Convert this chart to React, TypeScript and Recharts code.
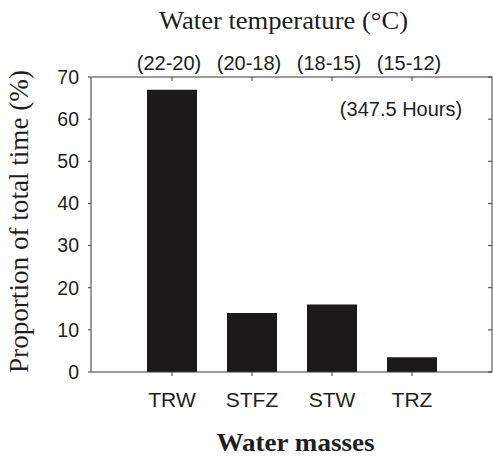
import React from 'react';
import { BarChart, Bar, XAxis, YAxis, ReferenceDot } from 'recharts';

// ---- data ----
const waterMasses = ['TRW', 'STFZ', 'STW', 'TRZ'];
const temperatureRanges = ['(22-20)', '(20-18)', '(18-15)', '(15-12)'];
const proportions = [67, 14, 16, 3.5];
const yTicks = [0, 10, 20, 30, 40, 50, 60, 70];
const totalHoursNote = '(347.5 Hours)';
const noteAnchor = { mass: 'TRZ', value: 62.4 };

const topTitle = 'Water temperature (°C)';
const bottomTitle = 'Water masses';
const leftTitle = 'Proportion of total time (%)';

const data = waterMasses.map((m, i) => ({
  mass: m,
  temp: temperatureRanges[i],
  value: proportions[i],
}));

// ---- styles ----
const SANS = 'Arial, "Liberation Sans", Helvetica, sans-serif';
const SERIF = '"Times New Roman", "Liberation Serif", serif';
const INK = '#1e1e1e';
const AXIS = '#3a3a3a';
const BAR = '#1b1919';

const TopTick = (props: any) => {
  const { x, y, payload } = props;
  return (
    <g>
      <line x1={x} x2={x} y1={y + 7} y2={y + 11} stroke={AXIS} strokeWidth={1} />
      <text x={x - 3} y={y} textAnchor="middle" fontFamily={SANS} fontSize={20} fill={INK}>
        {payload.value}
      </text>
    </g>
  );
};

const RightTick = (props: any) => {
  const { x, y } = props;
  return <line x1={x} x2={x - 4} y1={y} y2={y} stroke={AXIS} strokeWidth={1} />;
};

const TopTitle = (props: any) => {
  const vb = props.viewBox || { x: 91, y: 0, width: 401, height: 77 };
  const cx = vb.x + vb.width / 2 - 8;
  return (
    <text
      x={cx}
      y={vb.y + 29}
      textAnchor="middle"
      fontFamily={SERIF}
      fontSize={26}
      fill={INK}
      textLength={249}
      lengthAdjust="spacingAndGlyphs"
    >
      {topTitle}
    </text>
  );
};

const BottomTitle = (props: any) => {
  const vb = props.viewBox || { x: 91, y: 372, width: 401, height: 85 };
  const cx = vb.x + vb.width / 2 + 4;
  return (
    <text
      x={cx}
      y={vb.y + 79}
      textAnchor="middle"
      fontFamily={SERIF}
      fontWeight="bold"
      fontSize={25.5}
      fill={INK}
      textLength={158}
      lengthAdjust="spacingAndGlyphs"
    >
      {bottomTitle}
    </text>
  );
};

const LeftTitle = (props: any) => {
  const vb = props.viewBox || { x: 0, y: 77, width: 91, height: 295 };
  const cx = vb.x + 28;
  const cy = vb.y + vb.height / 2 - 3;
  return (
    <text
      x={cx}
      y={cy}
      transform={`rotate(-90, ${cx}, ${cy})`}
      textAnchor="middle"
      fontFamily={SERIF}
      fontSize={26.5}
      fill={INK}
      textLength={303}
      lengthAdjust="spacingAndGlyphs"
    >
      {leftTitle}
    </text>
  );
};

const NoteLabel = (props: any) => {
  const vb = props.viewBox || { x: 0, y: 0, width: 0, height: 0 };
  const cx = vb.x + vb.width / 2 - 11;
  const cy = vb.y + vb.height / 2;
  return (
    <text x={cx} y={cy + 7} textAnchor="middle" fontFamily={SANS} fontSize={20} fill={INK}>
      {totalHoursNote}
    </text>
  );
};

export default function App() {
  return (
    <div style={{ position: 'absolute', left: 0, top: 0, background: '#fff' }}>
      <BarChart
        width={493}
        height={457}
        data={data}
        margin={{ top: 0, right: 0, bottom: 0, left: 0 }}
      >
        <XAxis
          dataKey="mass"
          orientation="bottom"
          height={85}
          padding={{ left: 41, right: 40 }}
          tickSize={4}
          tickMargin={16}
          tick={{ fontFamily: SANS, fontSize: 21, fill: INK }}
          tickLine={{ stroke: AXIS }}
          axisLine={{ stroke: AXIS }}
          label={BottomTitle}
        />
        <XAxis
          xAxisId="top"
          dataKey="temp"
          orientation="top"
          height={77}
          padding={{ left: 41, right: 40 }}
          tickSize={0}
          tickMargin={7}
          tick={TopTick}
          tickLine={false}
          axisLine={{ stroke: AXIS }}
          label={TopTitle}
        />
        <YAxis
          domain={[0, 70]}
          ticks={yTicks}
          width={91}
          tickSize={3}
          tickMargin={9}
          tick={{ fontFamily: SANS, fontSize: 19.5, fill: INK }}
          tickLine={{ stroke: AXIS }}
          axisLine={{ stroke: AXIS }}
          label={LeftTitle}
        />
        <YAxis
          yAxisId="right"
          orientation="right"
          domain={[0, 70]}
          ticks={yTicks}
          allowDataOverflow
          width={1}
          tickSize={0}
          tickMargin={0}
          tick={RightTick}
          tickLine={false}
          axisLine={{ stroke: AXIS }}
        />
        <Bar dataKey="value" fill={BAR} barSize={50} isAnimationActive={false} />
        <ReferenceDot
          x={noteAnchor.mass}
          y={noteAnchor.value}
          r={1}
          fill="none"
          stroke="none"
          label={NoteLabel}
        />
      </BarChart>
    </div>
  );
}
